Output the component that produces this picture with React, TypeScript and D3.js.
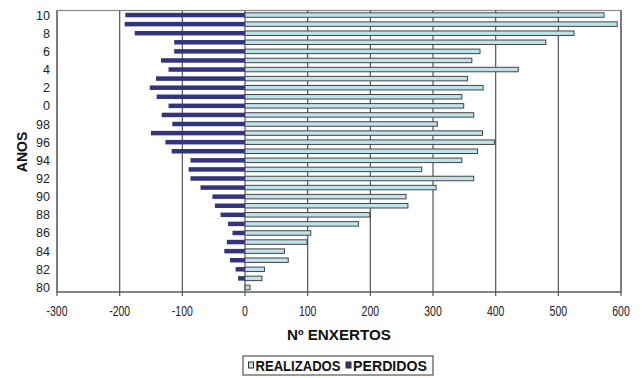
import React from "react";
import * as d3 from "d3";

const years = ["80","81","82","83","84","85","86","87","88","89","90","91","92","93","94","95","96","97","98","99","0","1","2","3","4","5","6","7","8","9","10"];
const realizados = [8,27,31,69,63,99,105,181,199,260,257,305,365,282,346,371,398,379,307,365,349,346,380,355,436,362,375,480,525,594,573];
const perdidos = [0,-11,-15,-24,-33,-29,-20,-27,-39,-48,-52,-71,-87,-90,-87,-117,-127,-150,-116,-133,-122,-141,-152,-142,-122,-134,-113,-113,-176,-192,-191];
const xTicks = [-300,-200,-100,0,100,200,300,400,500,600];
const labelYears = ["80","82","84","86","88","90","92","94","96","98","0","2","4","6","8","10"];
const seriesNames = ["REALIZADOS", "PERDIDOS"];

const W = 642, H = 378;
const left = 57, right = 621, top = 10.5, bottom = 292;
const font = "'Liberation Sans', Arial, sans-serif";
const lightFill = "#bfe3ea";
const darkFill = "#34347e";

export default function App() {
  const x = d3.scaleLinear().domain([-300, 600]).range([left, right]);
  const y = d3.scaleBand().domain([...years].reverse()).range([top, bottom]).paddingInner(0).paddingOuter(0);
  const bh = 4.5;
  return (
    <svg width={W} height={H} style={{ position: "absolute", left: 0, top: 0, background: "#fff" }} fontFamily={font}>
      <rect x={left} y={top} width={right - left} height={bottom - top} fill="#fff" stroke="#888" strokeWidth={1.2} />
      {xTicks.map(t => (
        <line key={"g" + t} x1={x(t)} x2={x(t)} y1={top} y2={bottom} stroke="#555" strokeWidth={1.2} />
      ))}
      {years.map((yr, i) => {
        const cy = (y(yr) as number) + y.bandwidth() / 2;
        return (
          <g key={yr}>
            {perdidos[i] < 0 && (
              <rect x={x(perdidos[i])} y={cy - bh / 2} width={x(0) - x(perdidos[i])} height={bh} fill={darkFill} />
            )}
            <rect x={x(0)} y={cy - bh / 2} width={x(realizados[i]) - x(0)} height={bh} fill={lightFill} stroke="#444" strokeWidth={1} />
          </g>
        );
      })}
      <line x1={left} x2={right} y1={bottom} y2={bottom} stroke="#555" strokeWidth={1.2} />
      {xTicks.map(t => (
        <g key={"t" + t}>
          <line x1={x(t)} x2={x(t)} y1={bottom} y2={bottom + 4} stroke="#555" strokeWidth={1.2} />
          <g transform={`translate(${x(t)},${bottom + 24}) scale(0.75,1)`}>
            <text x={0} y={0} textAnchor="middle" fontSize={14} fill="#222">{t}</text>
          </g>
        </g>
      ))}
      {labelYears.map(yr => (
        <text key={"y" + yr} x={50} y={(y(yr) as number) + y.bandwidth() / 2 + 4.5} textAnchor="end" fontSize={12.5} fill="#222">{yr}</text>
      ))}
      <text x={339} y={340} textAnchor="middle" fontSize={15} fontWeight="bold" fill="#111" textLength={104} lengthAdjust="spacingAndGlyphs">Nº ENXERTOS</text>
      <text transform={`translate(27, 152) rotate(-90)`} textAnchor="middle" fontSize={14} fontWeight="bold" fill="#111">ANOS</text>
      <g>
        <rect x={243} y={356} width={190} height={19} fill="#fff" stroke="#333" strokeWidth={1} />
        <rect x={248.5} y={362} width={5} height={6} fill={lightFill} stroke="#333" strokeWidth={1} />
        <text x={255.5} y={371} fontSize={14} fontWeight="bold" fill="#111" textLength={85} lengthAdjust="spacingAndGlyphs">{seriesNames[0]}</text>
        <rect x={346} y={362} width={5} height={6} fill={darkFill} stroke="#333" strokeWidth={1} />
        <text x={353} y={371} fontSize={14} fontWeight="bold" fill="#111" textLength={74} lengthAdjust="spacingAndGlyphs">{seriesNames[1]}</text>
      </g>
    </svg>
  );
}
